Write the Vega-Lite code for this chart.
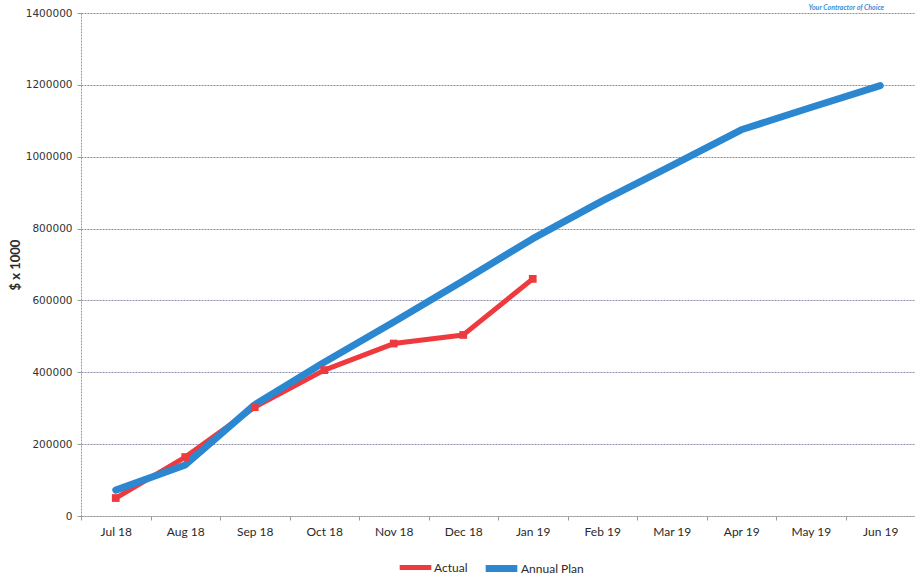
{
  "$schema": "https://vega.github.io/schema/vega-lite/v6.json",
  "width": 834,
  "height": 503,
  "autosize": {"type": "none"},
  "padding": {"left": 81, "top": 13, "right": 0, "bottom": 62},
  "background": "white",
  "title": {
    "text": "Your Contractor of Choice",
    "anchor": "end",
    "frame": "group",
    "orient": "top",
    "fontSize": 7,
    "fontStyle": "italic",
    "fontWeight": "bold",
    "font": "Lato",
    "color": "#3a8fd8",
    "offset": -3,
    "dx": -31
  },
  "config": {
    "view": {"stroke": null},
    "axis": {
      "domainColor": "#9a9a9a",
      "domainDash": [2, 1],
      "domainWidth": 1,
      "tickColor": "#9a9a9a",
      "tickWidth": 1
    }
  },
  "data": {
    "values": [
      {"month": "Jul 18", "series": "Actual", "value": 50000},
      {"month": "Aug 18", "series": "Actual", "value": 164000},
      {"month": "Sep 18", "series": "Actual", "value": 303000},
      {"month": "Oct 18", "series": "Actual", "value": 406000},
      {"month": "Nov 18", "series": "Actual", "value": 480000},
      {"month": "Dec 18", "series": "Actual", "value": 504000},
      {"month": "Jan 19", "series": "Actual", "value": 660000},
      {"month": "Jul 18", "series": "Annual Plan", "value": 72000},
      {"month": "Aug 18", "series": "Annual Plan", "value": 142000},
      {"month": "Sep 18", "series": "Annual Plan", "value": 310000},
      {"month": "Oct 18", "series": "Annual Plan", "value": 428000},
      {"month": "Nov 18", "series": "Annual Plan", "value": 540000},
      {"month": "Dec 18", "series": "Annual Plan", "value": 655000},
      {"month": "Jan 19", "series": "Annual Plan", "value": 772000},
      {"month": "Feb 19", "series": "Annual Plan", "value": 877000},
      {"month": "Mar 19", "series": "Annual Plan", "value": 975000},
      {"month": "Apr 19", "series": "Annual Plan", "value": 1075000},
      {"month": "May 19", "series": "Annual Plan", "value": 1137000},
      {"month": "Jun 19", "series": "Annual Plan", "value": 1198000}
    ]
  },
  "encoding": {
    "x": {
      "field": "month",
      "type": "ordinal",
      "sort": ["Jul 18", "Aug 18", "Sep 18", "Oct 18", "Nov 18", "Dec 18", "Jan 19", "Feb 19", "Mar 19", "Apr 19", "May 19", "Jun 19"],
      "scale": {"type": "band", "paddingInner": 0, "paddingOuter": 0},
      "axis": {
        "title": null,
        "labelAngle": 0,
        "tickBand": "extent",
        "tickSize": 4,
        "labelPadding": 6,
        "labelFont": "Lato",
        "labelFontSize": 12,
        "labelColor": "#2a2a2a",
        "grid": false
      }
    },
    "y": {
      "field": "value",
      "type": "quantitative",
      "scale": {"domain": [0, 1400000], "nice": false},
      "axis": {
        "title": "$ x 1000",
        "titleFont": "Lato",
        "titleFontSize": 13,
        "titleFontWeight": "bold",
        "titleColor": "#2a2a2a",
        "titlePadding": 3,
        "values": [0, 200000, 400000, 600000, 800000, 1000000, 1200000, 1400000],
        "format": "d",
        "labelFont": "DejaVu Sans",
        "labelFontSize": 10.5,
        "labelColor": "#333333",
        "tickSize": 4,
        "labelPadding": 5,
        "grid": true,
        "gridColor": "#8c8cac",
        "gridDash": [2, 1],
        "gridWidth": 1
      }
    }
  },
  "layer": [
    {
      "mark": {"type": "line", "strokeCap": "round", "strokeJoin": "round"},
      "encoding": {
        "color": {
          "field": "series",
          "type": "nominal",
          "scale": {"domain": ["Actual", "Annual Plan"], "range": ["#ee3a3e", "#2a87d0"]},
          "legend": {
            "title": null,
            "orient": "none",
            "legendX": 316,
            "legendY": 536,
            "direction": "horizontal",
            "gridAlign": "none",
            "symbolType": "stroke",
            "symbolStrokeWidth": 5,
            "symbolSize": 1000,
            "labelFont": "Lato",
            "labelFontSize": 12,
            "labelColor": "#2a2a2a",
            "labelOffset": 0,
            "columnPadding": 3
          }
        },
        "strokeWidth": {
          "field": "series",
          "type": "nominal",
          "scale": {"domain": ["Actual", "Annual Plan"], "range": [5, 7]},
          "legend": null
        },
        "order": {"field": "series", "sort": "ascending"}
      }
    },
    {
      "transform": [{"filter": "datum.series === 'Actual'"}],
      "mark": {"type": "square", "size": 60, "color": "#ee3a3e", "opacity": 1}
    }
  ]
}
